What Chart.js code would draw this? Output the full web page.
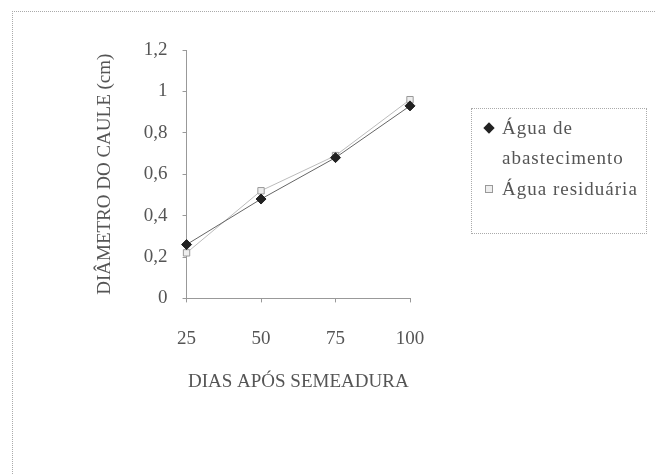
<!DOCTYPE html>
<html lang="pt">
<head>
<meta charset="UTF-8">
<script src="https://cdn.jsdelivr.net/npm/chart.js"></script>
<title>Diâmetro do caule</title>
<style>
  body { margin: 0; background: #fff; }
  #wrap { position: relative; width: 656px; height: 475px; }
  #frame { position: absolute; left: 12px; top: 11px; width: 650px; height: 470px;
           border-top: 1px dotted #aaa; border-left: 1px dotted #aaa; }
  #legend { position: absolute; left: 471px; top: 108px; width: 176px; height: 126px;
            border: 1px dotted #aaa; box-sizing: border-box;
            font-family: "Liberation Serif", serif; font-size: 19px; color: #555; letter-spacing: 1px; }
  .item { position: absolute; left: 30px; line-height: 30px; }
  .mk { position: absolute; left: -17px; width: 8px; height: 8px; }
</style>
</head>
<body>
<div id="wrap">
  <div id="frame"></div>
  <canvas id="chart" width="656" height="475"></canvas>
  <div id="legend"></div>
</div>
<script>
// dados
const categories = ['25', '50', '75', '100'];
const abastecimento = [0.26, 0.48, 0.68, 0.93];
const residuaria = [0.22, 0.52, 0.69, 0.96];
const yTickLabels = ['0', '0,2', '0,4', '0,6', '0,8', '1', '1,2'];
const seriesNames = ['Água de abastecimento', 'Água residuária'];

const font = { family: '"Liberation Serif", serif', size: 19 };
const textColor = '#555';

const ctx = document.getElementById('chart').getContext('2d');
new Chart(ctx, {
  type: 'line',
  data: {
    labels: categories,
    datasets: [{
      label: seriesNames[0],
      data: abastecimento,
      borderColor: '#666',
      backgroundColor: '#222',
      borderWidth: 1,
      pointStyle: 'rectRot',
      pointRadius: 5,
      pointBorderColor: '#222',
      tension: 0
    }, {
      label: seriesNames[1],
      data: residuaria,
      borderColor: '#bbb',
      backgroundColor: '#eee',
      borderWidth: 1,
      pointStyle: 'rect',
      pointRadius: 4.5,
      pointBorderColor: '#999',
      tension: 0
    }]
  },
  options: {
    responsive: false,
    animation: false,
    layout: { padding: { left: 84, top: 50, right: 246, bottom: 82 } },
    plugins: { legend: { display: false }, tooltip: { enabled: false } },
    scales: {
      x: {
        offset: false,
        grid: { display: true, drawOnChartArea: false, tickLength: 4, color: '#999' },
        border: { color: '#999', dash: [2, 2] },
        ticks: { font: font, color: textColor, padding: 25 },
        title: { display: true, text: 'DIAS APÓS SEMEADURA', font: font, color: textColor,
                 padding: { top: -5, bottom: 0 } }
      },
      y: {
        min: 0, max: 1.2,
        grid: { display: true, drawOnChartArea: false, tickLength: 4, color: '#999' },
        border: { color: '#999', dash: [2, 2] },
        ticks: {
          stepSize: 0.2, font: font, color: textColor, padding: 15,
          callback: (v, i) => yTickLabels[i]
        },
        title: { display: true, text: 'DIÂMETRO DO CAULE (cm)', font: font, color: textColor,
                 padding: { top: 10, bottom: 12 } }
      }
    }
  }
});

// legenda em HTML
const legend = document.getElementById('legend');
const marks = [
  '<span class="mk" style="top:11px;background:#222;transform:rotate(45deg)"></span>',
  '<span class="mk" style="top:11px;background:#eee;border:1px solid #999;box-sizing:border-box"></span>'
];
legend.innerHTML =
  '<div class="item" style="top:4px">' + marks[0] + 'Água de<br>abastecimento</div>' +
  '<div class="item" style="top:65px">' + marks[1] + seriesNames[1] + '</div>';
</script>
</body>
</html>
